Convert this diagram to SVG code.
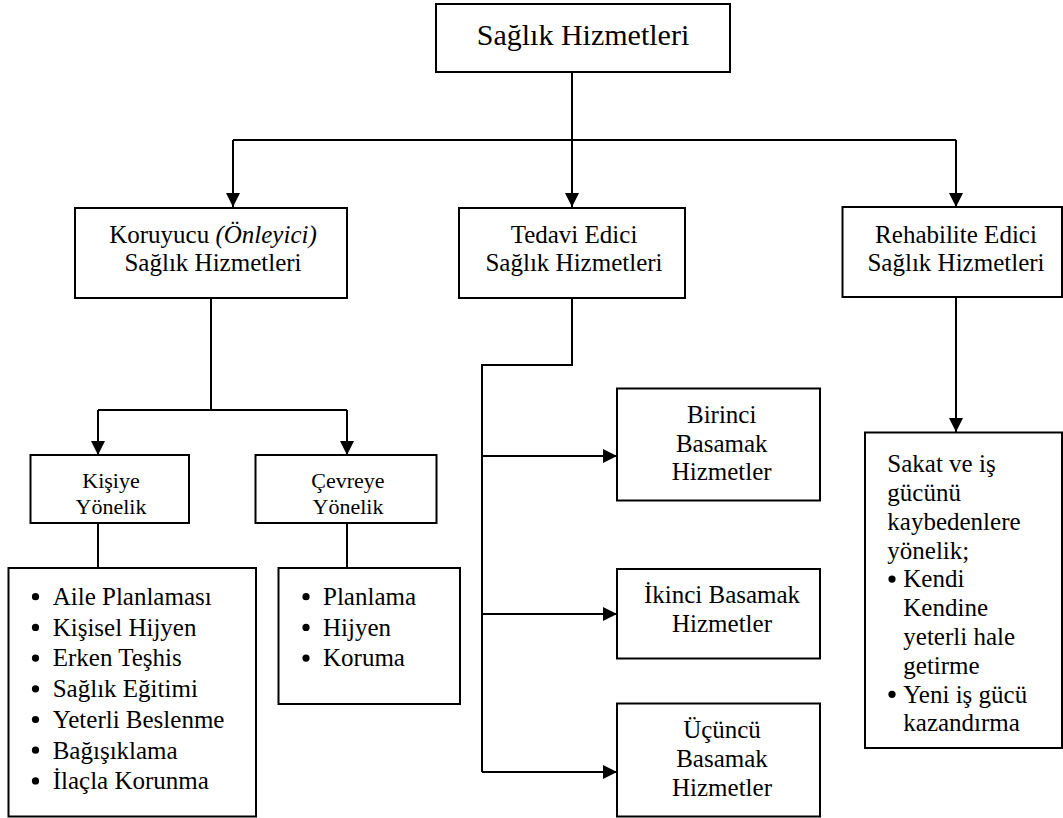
<svg xmlns="http://www.w3.org/2000/svg" width="1063" height="818" viewBox="0 0 1063 818" font-family="'Liberation Serif', 'DejaVu Serif', serif">
<style>
text { font-family: 'Liberation Serif', 'DejaVu Serif', serif; fill: #000; }
.box { fill: #fff; stroke: #000; stroke-width: 2; }
.c { text-anchor: middle; font-size: 25px; }
.s { text-anchor: middle; font-size: 22px; }
.l { font-size: 25px; }
.dot { fill: #000; }
.ln { fill: none; stroke: #000; stroke-width: 2; }
</style>
<defs>
<marker id="ah" markerUnits="userSpaceOnUse" markerWidth="14" markerHeight="14" refX="14" refY="7" orient="auto">
<path d="M0,0 L14,7 L0,14 z" fill="#000"/>
</marker>
</defs>
<rect width="1063" height="818" fill="#fff"/>

<g id="connectors">
<path class="ln" d="M572,72 V207"/>
<path class="ln" d="M233,140 H956"/>
<path class="ln" d="M233,140 V207" marker-end="url(#ah)"/>
<path class="ln" d="M572,140 V207" marker-end="url(#ah)"/>
<path class="ln" d="M956,140 V207" marker-end="url(#ah)"/>
<path class="ln" d="M211,298 V410 M98,410 H347"/>
<path class="ln" d="M98,410 V455" marker-end="url(#ah)"/>
<path class="ln" d="M347,410 V455" marker-end="url(#ah)"/>
<path class="ln" d="M98,523 V568"/>
<path class="ln" d="M347,523 V568"/>
<path class="ln" d="M572,298 V365 H482 V772"/>
<path class="ln" d="M482,456 H617" marker-end="url(#ah)"/>
<path class="ln" d="M482,614 H617" marker-end="url(#ah)"/>
<path class="ln" d="M482,772 H617" marker-end="url(#ah)"/>
<path class="ln" d="M956,297 V432" marker-end="url(#ah)"/>
</g>

<g id="saglik-hizmetleri">
<rect class="box" x="436" y="4" width="294" height="68"/>
<text x="583" y="45" text-anchor="middle" font-size="30">Sağlık Hizmetleri</text>
</g>

<g id="koruyucu">
<rect class="box" x="75" y="208" width="272" height="90"/>
<text class="c" x="213" y="243">Koruyucu <tspan font-style="italic">(Önleyici)</tspan></text>
<text class="c" x="213" y="270.5">Sağlık Hizmetleri</text>
</g>

<g id="tedavi">
<rect class="box" x="459" y="208" width="226" height="90"/>
<text class="c" x="574" y="243">Tedavi Edici</text>
<text class="c" x="574" y="270.5">Sağlık Hizmetleri</text>
</g>

<g id="rehabilite">
<rect class="box" x="842.5" y="207" width="219.5" height="90"/>
<text class="c" x="956" y="243">Rehabilite Edici</text>
<text class="c" x="956" y="270.5">Sağlık Hizmetleri</text>
</g>

<g id="kisiye">
<rect class="box" x="30.5" y="455" width="158.5" height="68"/>
<text class="s" x="111" y="488">Kişiye</text>
<text class="s" x="111" y="514">Yönelik</text>
</g>

<g id="cevreye">
<rect class="box" x="255.5" y="455" width="181" height="68"/>
<text class="s" x="348" y="488">Çevreye</text>
<text class="s" x="348" y="514">Yönelik</text>
</g>

<g id="kisiye-list">
<rect class="box" x="8.5" y="568" width="247.5" height="248.5"/>
<circle class="dot" cx="35.5" cy="596.7" r="3.6"/><text class="l" x="52.7" y="605">Aile Planlaması</text>
<circle class="dot" cx="35.5" cy="627.4" r="3.6"/><text class="l" x="52.7" y="635.7">Kişisel Hijyen</text>
<circle class="dot" cx="35.5" cy="658.1" r="3.6"/><text class="l" x="52.7" y="666.4">Erken Teşhis</text>
<circle class="dot" cx="35.5" cy="688.8" r="3.6"/><text class="l" x="52.7" y="697.1">Sağlık Eğitimi</text>
<circle class="dot" cx="35.5" cy="719.5" r="3.6"/><text class="l" x="52.7" y="727.8">Yeterli Beslenme</text>
<circle class="dot" cx="35.5" cy="750.2" r="3.6"/><text class="l" x="52.7" y="758.5">Bağışıklama</text>
<circle class="dot" cx="35.5" cy="780.9" r="3.6"/><text class="l" x="52.7" y="789.2">İlaçla Korunma</text>
</g>

<g id="cevreye-list">
<rect class="box" x="278.5" y="568" width="181.5" height="136"/>
<circle class="dot" cx="306" cy="596.7" r="3.6"/><text class="l" x="323" y="605">Planlama</text>
<circle class="dot" cx="306" cy="627.4" r="3.6"/><text class="l" x="323" y="635.7">Hijyen</text>
<circle class="dot" cx="306" cy="658.1" r="3.6"/><text class="l" x="323" y="666.4">Koruma</text>
</g>

<g id="birinci">
<rect class="box" x="617" y="388.5" width="203" height="112"/>
<text class="c" x="721.7" y="422.7">Birinci</text>
<text class="c" x="721.7" y="451.7">Basamak</text>
<text class="c" x="721.7" y="480">Hizmetler</text>
</g>

<g id="ikinci">
<rect class="box" x="617" y="569" width="203" height="89.5"/>
<text class="c" x="722" y="603">İkinci Basamak</text>
<text class="c" x="722" y="631.7">Hizmetler</text>
</g>

<g id="ucuncu">
<rect class="box" x="617" y="703.5" width="203" height="113"/>
<text class="c" x="722" y="738">Üçüncü</text>
<text class="c" x="722" y="767">Basamak</text>
<text class="c" x="722" y="796">Hizmetler</text>
</g>

<g id="sakat">
<rect class="box" x="865" y="432.5" width="197" height="315.5"/>
<text class="l" x="887.3" y="472.2">Sakat ve iş</text>
<text class="l" x="887.3" y="501">gücünü</text>
<text class="l" x="887.3" y="529.8">kaybedenlere</text>
<text class="l" x="887.3" y="558.6">yönelik;</text>
<circle class="dot" cx="892" cy="579.1" r="3.6"/><text class="l" x="903.3" y="587.4">Kendi</text>
<text class="l" x="903.3" y="616.2">Kendine</text>
<text class="l" x="903.3" y="645">yeterli hale</text>
<text class="l" x="903.3" y="673.8">getirme</text>
<circle class="dot" cx="892" cy="694.3" r="3.6"/><text class="l" x="903.3" y="702.6">Yeni iş gücü</text>
<text class="l" x="903.3" y="731.4">kazandırma</text>
</g>
</svg>
